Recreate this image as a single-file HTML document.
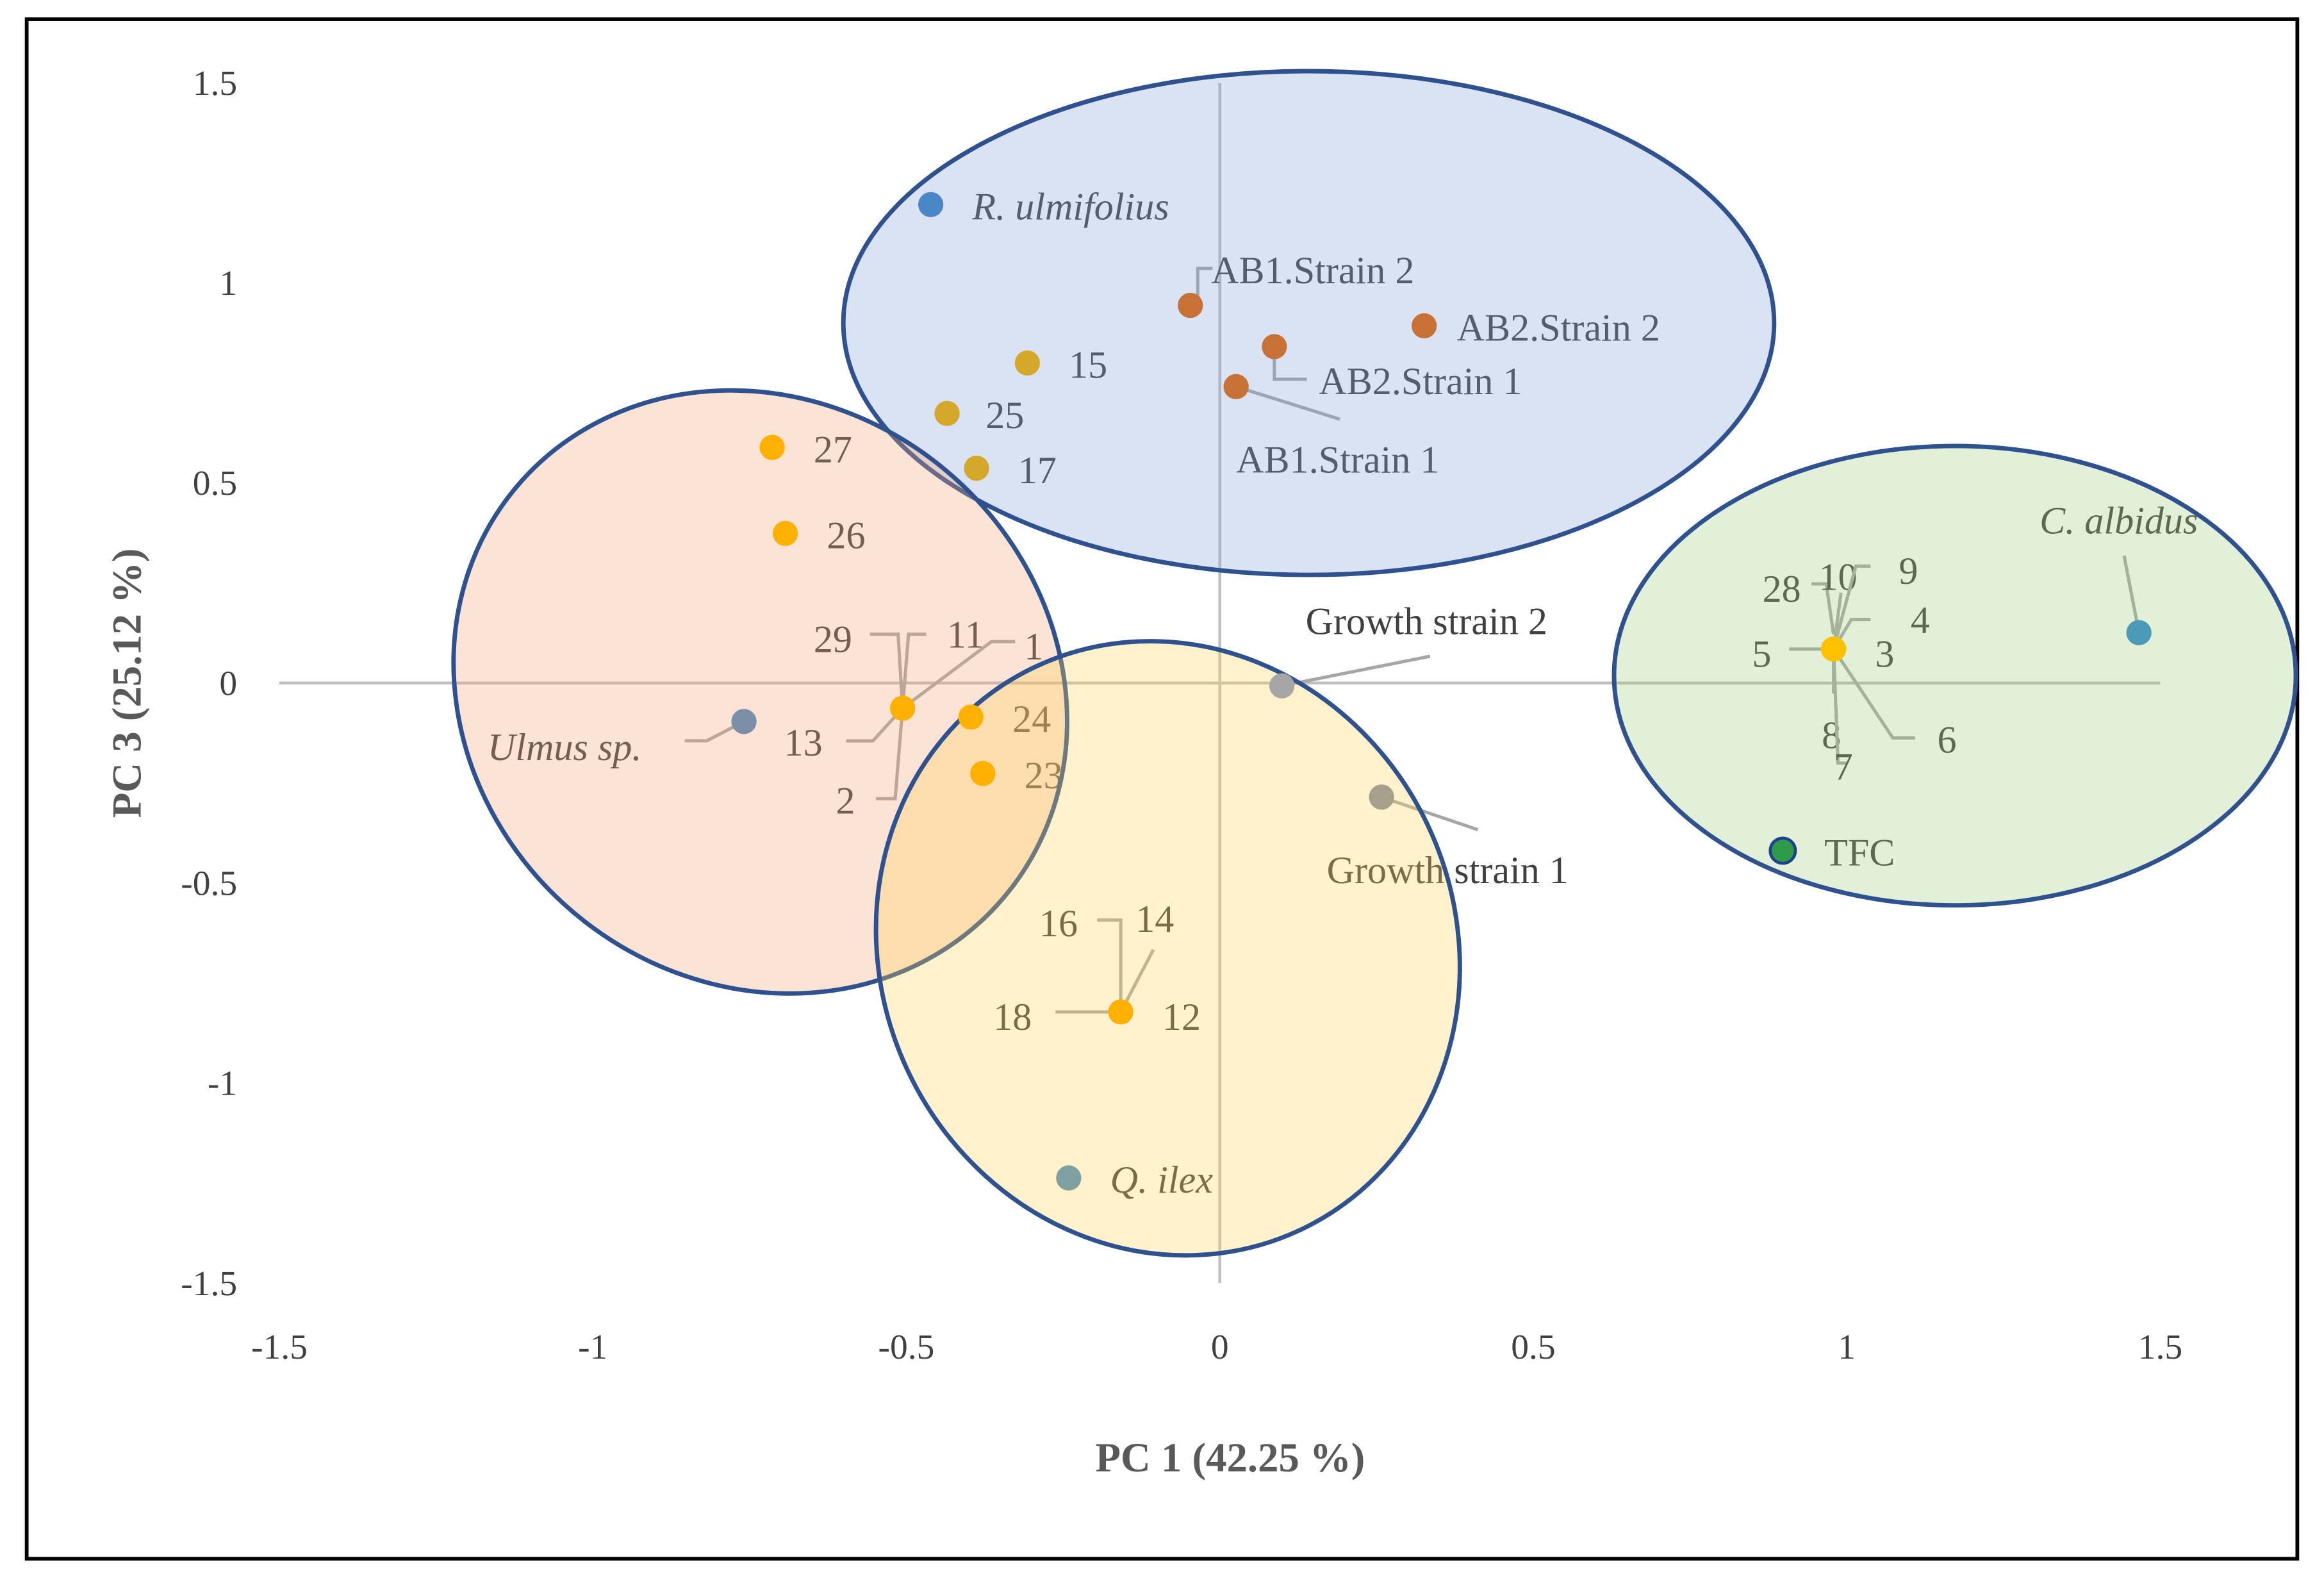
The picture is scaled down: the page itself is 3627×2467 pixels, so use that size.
<!DOCTYPE html>
<html><head><meta charset="utf-8"><style>
html,body{margin:0;padding:0;background:#fff;}
svg{display:block;}
text{font-family:"Liberation Serif",serif;fill:#404040;}
</style></head><body>
<svg id="chart" width="3627" height="2467" viewBox="0 0 1568 1067" preserveAspectRatio="none" xmlns="http://www.w3.org/2000/svg">
<rect x="18" y="13" width="1532" height="1039" fill="#fff" stroke="#000" stroke-width="2.5"/>
<g id="plot"></g>
</svg>
<script>
const ptNames = ["R. ulmifolius","AB1.Strain 2","AB2.Strain 2","AB2.Strain 1","AB1.Strain 1","15","25","17","27","26","Ulmus sp.","1-2-11-13-29","24","23","Growth strain 2","Growth strain 1","12-14-16-18","Q. ilex","C. albidus","3-10,28","TFC"];
const ptX = [-0.461,-0.047,0.326,0.087,0.026,-0.307,-0.435,-0.388,-0.714,-0.693,-0.759,-0.506,-0.397,-0.378,0.099,0.258,-0.158,-0.241,1.466,0.979,0.898];
const ptY = [1.196,0.944,0.893,0.841,0.741,0.80,0.674,0.537,0.589,0.374,-0.096,-0.063,-0.085,-0.226,-0.007,-0.285,-0.822,-1.237,0.126,0.085,-0.419];
const ptColors = ["#4a86c8","#c87137","#c87137","#c87137","#c87137","#d4a82a","#d4a82a","#d4a82a","#ffb000","#ffb000","#7b8fa8","#ffb000","#ffb000","#ffb000","#a6a6a6","#a6a08a","#ffb000","#7fa0a0","#4a9ab8","#ffc000","#2e9a4a"];
const xTicks = [-1.5,-1,-0.5,0,0.5,1,1.5];
const yTicks = [-1.5,-1,-0.5,0,0.5,1,1.5];
const xTickLabels = ["-1.5","-1","-0.5","0","0.5","1","1.5"];
const yTickLabels = ["-1.5","-1","-0.5","0","0.5","1","1.5"];
// labels: [text, point index, dx, dy, italic, leader polyline offsets]
const labels = [
 ["R. ulmifolius",0,28,10,true,null],
 ["AB1.Strain 2",1,14,-15,false,[[0,-5],[5,-5],[5,-25],[15,-25]]],
 ["AB2.Strain 2",2,22,10,false,null],
 ["AB2.Strain 1",3,30,32,false,[[0,0],[0,22],[22,22]]],
 ["AB1.Strain 1",4,0,58,false,[[0,0],[70,22]]],
 ["15",5,28,10,false,null],["25",6,26,10,false,null],["17",7,28,10,false,null],
 ["27",8,28,10,false,null],["26",9,28,10,false,null],
 ["Ulmus sp.",10,-173,26,true,[[0,0],[-25,13],[-40,13]]],
 ["29",11,-60,-38,false,[[0,0],[-3,-50],[-22,-50]]],
 ["11",11,30,-41,false,[[0,0],[4,-50],[16,-50]]],
 ["1",11,82,-33,false,[[0,0],[60,-45],[76,-45]]],
 ["13",11,-80,32,false,[[0,0],[-20,22],[-38,22]]],
 ["2",11,-45,71,false,[[0,0],[-5,61],[-18,61]]],
 ["24",12,28,10,false,null],["23",13,28,10,false,null],
 ["Growth strain 2",14,16,-35,false,[[0,0],[100,-20]]],
 ["Growth strain 1",15,-37,58,false,[[0,0],[65,22]]],
 ["16",16,-55,-51,false,[[0,0],[0,-62],[-16,-62]]],
 ["14",16,10,-54,false,[[0,0],[22,-42]]],
 ["18",16,-86,12,false,[[0,0],[-44,0]]],
 ["12",16,28,12,false,null],
 ["Q. ilex",17,28,10,true,null],
 ["C. albidus",18,-67,-67,true,[[0,0],[-10,-52]]],
 ["28",19,-48,-32,false,[[0,-10],[-5,-44],[-15,-44]]],
 ["10",19,-10,-40,false,[[0,0],[5,-38]]],
 ["9",19,44,-44,false,[[0,0],[15,-56],[25,-56]]],
 ["4",19,52,-11,false,[[0,0],[12,-20],[25,-20]]],
 ["5",19,-55,12,false,[[0,0],[-30,0]]],
 ["3",19,28,12,false,null],
 ["6",19,70,70,false,[[0,0],[40,60],[55,60]]],
 ["8",19,-8,67,false,[[0,0],[0,30]]],
 ["7",19,0,88,false,[[0,0],[3,77],[9,77]]],
 ["TFC",20,28,10,false,null]
];
const X0=823, XU=423, Y0=461, YU=270;
const sx = v => X0 + v*XU;
const sy = v => Y0 - v*YU;
const NS="http://www.w3.org/2000/svg";
const g=document.getElementById('plot');
function mk(tag,attrs,parent){const e=document.createElementNS(NS,tag);for(const k in attrs)e.setAttribute(k,attrs[k]);(parent||g).appendChild(e);return e;}

// axes
let ax=mk('line',{x1:sx(-1.5),x2:sx(1.5),y1:sy(0),y2:sy(0),stroke:'#bfbfbf','stroke-width':2});


let ay=mk('line',{x1:sx(0),x2:sx(0),y1:sy(1.5),y2:sy(-1.5),stroke:'#bfbfbf','stroke-width':2});


xTicks.forEach((t,i)=>{const e=mk('text',{x:sx(t),y:917,'font-size':24,'text-anchor':'middle'});e.textContent=xTickLabels[i];

});
yTicks.forEach((t,i)=>{const e=mk('text',{x:160,y:sy(t)+8,'font-size':24,'text-anchor':'end'});e.textContent=yTickLabels[i];

});
let xt=mk('text',{x:830,y:993,'font-size':28,'font-weight':'bold','text-anchor':'middle',style:'fill:#595959'});xt.textContent='PC 1 (42.25 %)';


let yt=mk('text',{x:0,y:0,'font-size':28,'font-weight':'bold','text-anchor':'middle',style:'fill:#595959',transform:'translate(95,461) rotate(-90)'});yt.textContent='PC 3 (25.12 %)';



// leaders + labels
labels.forEach(l=>{const px=sx(ptX[l[1]]),py=sy(ptY[l[1]]);
 if(l[5]){const p=mk('polyline',{points:l[5].map(q=>(px+q[0])+','+(py+q[1])).join(' '),fill:'none',stroke:'#a6a6a6','stroke-width':2.2});
 
 }
 const t=mk('text',{x:px+l[2],y:py+l[3],'font-size':26});
 if(l[4])t.setAttribute('font-style','italic');
 t.textContent=l[0];
 
 
});
// ellipses (semi-transparent overlay)
const ells=[
 ['cluster-ellipse-blue',883,218,314,170,0,'rgb(132,162,215)'],
 ['cluster-ellipse-orange',513,467,215,195,40,'rgb(242,162,115)'],
 ['cluster-ellipse-yellow',788,640,210,194,65,'rgb(255,212,85)'],
 ['cluster-ellipse-green',1319,456,230,155,0,'rgb(158,205,128)']];
ells.forEach(e=>{const el=mk('ellipse',{cx:e[1],cy:e[2],rx:e[3],ry:e[4],transform:`rotate(${e[5]} ${e[1]} ${e[2]})`,fill:e[6],'fill-opacity':0.3,stroke:'#2f528f','stroke-width':3});

});
// points on top
ptX.forEach((x,i)=>{const c=mk('circle',{cx:sx(x),cy:sy(ptY[i]),r:8.5,fill:ptColors[i],stroke:i==20?'#1f3f8f':'none','stroke-width':2});

});
</script>
</body></html>
